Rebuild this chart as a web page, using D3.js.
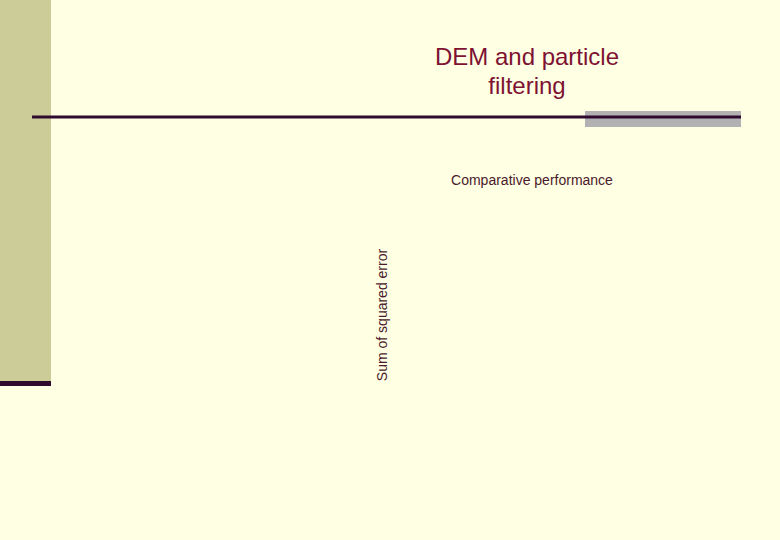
<!DOCTYPE html>
<html>
<head>
<meta charset="utf-8">
<script src="https://cdn.jsdelivr.net/npm/d3@7"></script>
<style>
  html, body { margin: 0; padding: 0; background: #ffffe3; }
  svg { display: block; }
</style>
</head>
<body>
<svg id="chart" width="780" height="540"></svg>
<script>
const titleLines = ["DEM and particle", "filtering"],
  chartTitle = "Comparative performance",
  yLabel = "Sum of squared error",
  // the plot in the slide shows no marks or ticks
  categories = [],
  values = [];

const width = 780,
  height = 540;

const svg = d3.select("#chart");

svg.append("rect")
  .attr("width", width)
  .attr("height", height)
  .attr("fill", "#ffffe3");

// slide decoration: left band and its dark foot
svg.append("rect")
  .attr("x", 0).attr("y", 0)
  .attr("width", 51).attr("height", 382)
  .attr("fill", "#cccc99");
svg.append("rect")
  .attr("x", 0).attr("y", 381)
  .attr("width", 51).attr("height", 5)
  .attr("fill", "#2e0a2e");

// rule under the title, with grey block on the right
svg.append("rect")
  .attr("x", 585).attr("y", 111)
  .attr("width", 156).attr("height", 16)
  .attr("fill", "#b2b2b2");
svg.append("rect")
  .attr("x", 32).attr("y", 115.5)
  .attr("width", 709).attr("height", 3)
  .attr("fill", "#2e0a2e");

svg.append("g")
  .selectAll("text")
  .data(titleLines)
  .enter()
  .append("text")
  .attr("x", 527)
  .attr("y", (_d, i) => 65 + i * 29)
  .attr("text-anchor", "middle")
  .attr("font-family", "Liberation Sans, Arial, sans-serif")
  .attr("font-size", 24)
  .attr("fill", "#7d1232")
  .text((d) => d);

// chart
const margin = { left: 392, top: 195, right: 700, bottom: 382 };

const x = d3.scaleBand()
  .domain(categories)
  .range([margin.left, margin.right])
  .padding(0.2);

const y = d3.scaleLinear()
  .domain([0, d3.max(values) || 1])
  .range([margin.bottom, margin.top]);

svg.append("g")
  .selectAll("rect")
  .data(values)
  .enter()
  .append("rect")
  .attr("x", (_d, i) => x(categories[i]))
  .attr("y", (d) => y(d))
  .attr("width", x.bandwidth())
  .attr("height", (d) => y(0) - y(d))
  .attr("fill", "#7d1232");

svg.append("text")
  .attr("x", 532)
  .attr("y", 185)
  .attr("text-anchor", "middle")
  .attr("font-family", "Liberation Sans, Arial, sans-serif")
  .attr("font-size", 14)
  .attr("fill", "#4a1a2c")
  .text(chartTitle);

svg.append("text")
  .attr("transform", "translate(387, 315) rotate(-90)")
  .attr("text-anchor", "middle")
  .attr("font-family", "Liberation Sans, Arial, sans-serif")
  .attr("font-size", 14)
  .attr("fill", "#4a1a2c")
  .text(yLabel);
</script>
</body>
</html>
